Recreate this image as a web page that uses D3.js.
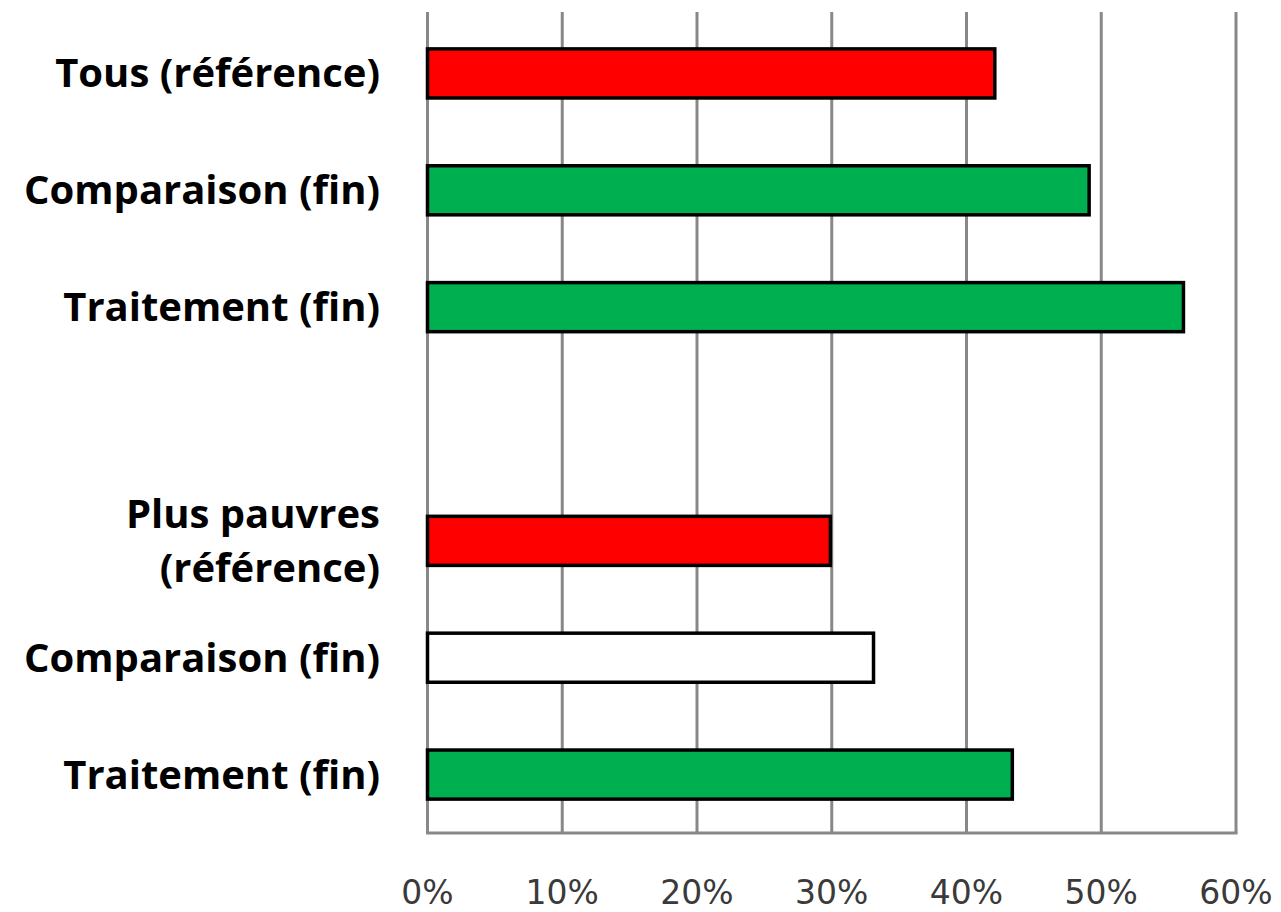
<!DOCTYPE html>
<html><head><meta charset="utf-8">
<script src="https://cdn.jsdelivr.net/npm/d3@7"></script>
<style>body{margin:0;background:#fff} text{font-variant-ligatures:none}</style>
</head><body>
<svg id="chart" width="1281" height="912"></svg>
<script>
const categories = ["Tous (référence)", "Comparaison (fin)", "Traitement (fin)", "", "Plus pauvres|(référence)", "Comparaison (fin)", "Traitement (fin)"];
const values = [42.1, 49.1, 56.1, null, 29.9, 33.1, 43.4];
const barColors = ["#FF0000", "#00B050", "#00B050", null, "#FF0000", "#FFFFFF", "#00B050"];
const tickValues = [0, 10, 20, 30, 40, 50, 60];
const tickLabels = ["0%", "10%", "20%", "30%", "40%", "50%", "60%"];

(function () {
const svg = d3.select("#chart");
const mLeft = 427.5, mRight = 1236, mTop = 15, mBottom = 833;
const x = d3.scaleLinear().domain([0, 60]).range([mLeft, mRight]);
const y = d3.scaleBand().domain(d3.range(categories.length)).range([mTop, mBottom]).paddingInner(0.58).paddingOuter(0.29);

// gridlines
svg.append("g").selectAll("line").data(tickValues).join("line")
  .attr("x1", d => x(d)).attr("x2", d => x(d))
  .attr("y1", 12).attr("y2", mBottom)
  .attr("stroke", "#888").attr("stroke-width", 3);
svg.append("line").attr("x1", x(0) - 1.5).attr("x2", x(60) + 1.5)
  .attr("y1", mBottom).attr("y2", mBottom).attr("stroke", "#888").attr("stroke-width", 3);

// bars
const data = categories.map((c, i) => ({c, v: values[i], col: barColors[i], i})).filter(d => d.v != null);
svg.append("g").selectAll("rect").data(data).join("rect")
  .attr("x", x(0)).attr("y", d => y(d.i))
  .attr("width", d => x(d.v) - x(0)).attr("height", y.bandwidth())
  .attr("fill", d => d.col).attr("stroke", "#000").attr("stroke-width", 3.5);

// category labels
const lab = svg.append("g").attr("font-family", "'Open Sans', Lato, sans-serif")
  .attr("font-weight", "bold").attr("font-size", 40).attr("fill", "#000").attr("text-anchor", "end");
categories.forEach((c, i) => {
  if (!c) return;
  const lines = c.split("|");
  const cy = y(i) + y.bandwidth() / 2;
  const lh = 54;
  lines.forEach((ln, k) => {
    lab.append("text").attr("x", 380)
      .attr("y", cy + 14 + (k - (lines.length - 1) / 2) * lh)
      .text(ln);
  });
});

// x tick labels
svg.append("g").attr("font-family", "'DejaVu Sans', sans-serif").attr("font-size", 33)
  .attr("fill", "#3a3a3a").attr("text-anchor", "middle")
  .selectAll("text").data(tickValues).join("text")
  .attr("x", d => x(d)).attr("y", 904)
  .text((d, i) => tickLabels[i]);
})();
</script>
</body></html>
